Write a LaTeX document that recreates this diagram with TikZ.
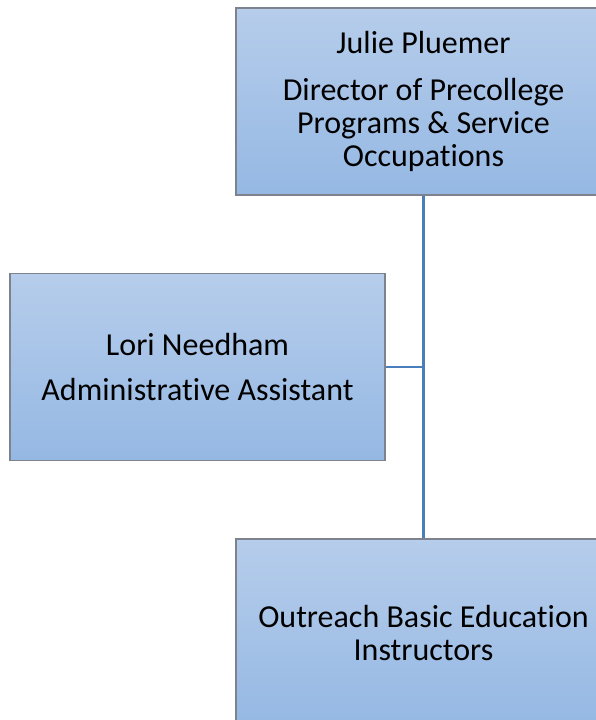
\documentclass[tikz,border=0pt]{standalone}
\usepackage{fontspec}
\setmainfont{Carlito}[Ligatures=NoCommon]
\usepackage{xcolor}
\usetikzlibrary{positioning}

\definecolor{boxtop}{RGB}{182,205,235}
\definecolor{boxbot}{RGB}{149,184,227}
\definecolor{boxedge}{RGB}{125,130,140}
\definecolor{linkblue}{RGB}{74,126,187}

\begin{document}
\begin{tikzpicture}[
  x=1pt, y=-1pt,
  unit/.style={
    rectangle,
    draw=boxedge,
    line width=1.4pt,
    top color=boxtop,
    bottom color=boxbot,
    minimum width=375pt,
    minimum height=187pt,
    inner sep=0pt,
    font=\fontsize{32}{33}\selectfont,
    align=center
  },
  link/.style={
    line width=2.4pt,
    draw=linkblue
  }
]
\useasboundingbox (0,0) rectangle (596,720);
\clip (0,0) rectangle (596,720);

% Units
\node[unit] (dir) at (423.5,101.5) {Julie Pluemer\\[14pt]Director of Precollege\\Programs \& Service\\Occupations};
\node[unit] (asst) at (197.5,367) {Lori Needham\\[12pt]Administrative Assistant};
\node[unit] (inst) at (423.5,632.5) {Outreach Basic Education\\Instructors};

% Connections
\draw[link] (dir.south) -- (inst.north);
\draw[link] (asst.east) -- (asst.east -| dir.south);
\end{tikzpicture}
\end{document}
